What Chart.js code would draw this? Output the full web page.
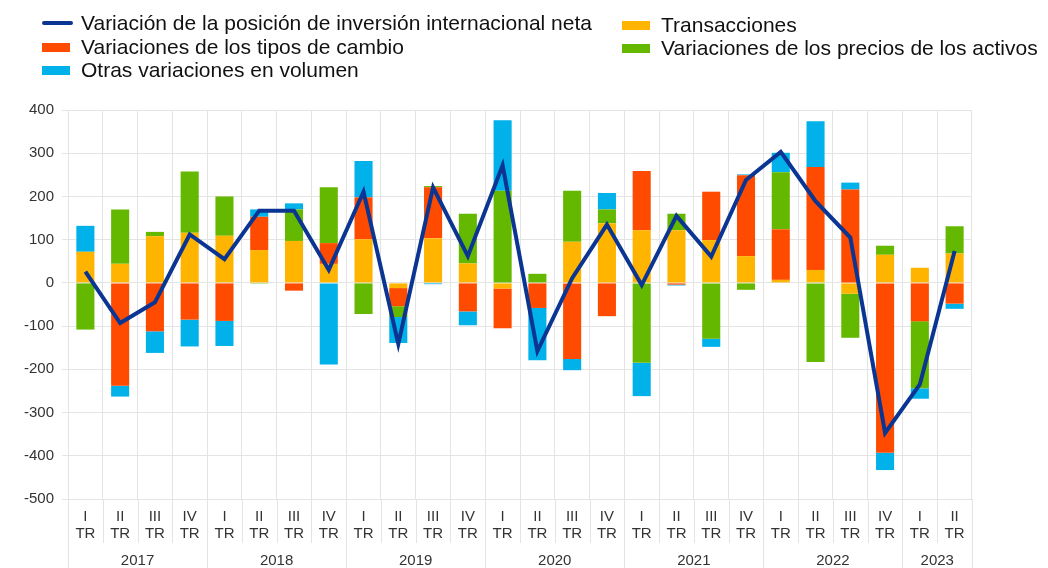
<!DOCTYPE html>
<html>
<head>
<meta charset="utf-8">
<script src="https://cdn.jsdelivr.net/npm/chart.js"></script>
<style>
    body { margin: 0; background: #fff; }
    .wrap { position: relative; width: 1048px; height: 568px; font-family: "Liberation Sans", Arial, sans-serif; }
    .legend-item { position: absolute; font-size: 21px; line-height: 24px; color: #111; white-space: nowrap; }
    .legend-mark { position: absolute; }
</style>
</head>
<body>
<div class="wrap">
    <canvas id="iip"></canvas>
    <div id="legend"></div>
</div>
<script>
    //categories
    const quarters = ['I', 'II', 'III', 'IV', 'I', 'II', 'III', 'IV', 'I', 'II', 'III', 'IV', 'I', 'II', 'III', 'IV',
        'I', 'II', 'III', 'IV', 'I', 'II', 'III', 'IV', 'I', 'II'];
    const years = ['2017', '2018', '2019', '2020', '2021', '2022', '2023'];

    //series (mm de euros)
    const transacciones = [72, 44, 108, 116, 109, 76, 97, 44, 101, -12, 103, 45, -13, 0, 95, 138, 122, 122, 99, 62, 7, 30, -25, 65, 35, 68];
    const tiposCambio = [0, -238, -112, -85, -88, 77, -18, 48, 97, -42, 118, -66, -92, -58, -176, -77, 137, -4, 112, 187, 117, 238, 216, -393, -89, -48];
    const preciosActivos = [-108, 126, 10, 142, 91, -2, 73, 129, -72, -25, 3, 115, 213, 21, 118, 32, -185, 38, -129, -16, 132, -183, -102, 21, -155, 63];
    const otrasVariaciones = [60, -25, -50, -62, -58, 17, 14, -189, 84, -60, -3, -32, 163, -121, -26, 38, -77, -2, -19, 2, 45, 106, 16, -40, -24, -12];
    const variacionNeta = [26, -93, -45, 112, 55, 167, 167, 30, 211, -141, 221, 62, 272, -158, 11, 135, -5, 155, 61, 238, 303, 189, 105, -347, -235, 74];

    //y axis ticks
    const yMin = -500;
    const yMax = 400;
    const yStep = 100;

    const gridColor = '#e4e4e4';
    const textColor = '#333';
    const colors = {
        neta: '#0a3592',
        transacciones: '#ffb400',
        tipos: '#ff4b00',
        precios: '#65b800',
        otras: '#00b1ea'
    };

    /*Legend*/
    const legendItems = [
        { label: 'Variación de la posición de inversión internacional neta', color: colors.neta, line: true, x: 42, y: 23 },
        { label: 'Variaciones de los tipos de cambio', color: colors.tipos, x: 42, y: 47 },
        { label: 'Otras variaciones en volumen', color: colors.otras, x: 42, y: 70 },
        { label: 'Transacciones', color: colors.transacciones, x: 622, y: 25 },
        { label: 'Variaciones de los precios de los activos', color: colors.precios, x: 622, y: 48 }
    ];
    document.getElementById('legend').innerHTML = legendItems.map(item => {
        let mark = item.line
            ? `<div class="legend-mark" style="left:${item.x}px;top:${item.y - 2}px;width:31px;height:4px;border-radius:2px;background:${item.color}"></div>`
            : `<div class="legend-mark" style="left:${item.x}px;top:${item.y - 4.5}px;width:28px;height:9px;background:${item.color}"></div>`;
        return `${mark}<div class="legend-item" style="left:${item.x + 39}px;top:${item.y - 12}px">${item.label}</div>`;
    }).join('');

    /*Quarter separators and year row*/
    const yearRow = {
        id: 'yearRow',
        afterDraw(chart) {
            const ctx = chart.ctx;
            const x = chart.scales.x;
            const bottom = chart.chartArea.bottom;
            ctx.save();
            ctx.strokeStyle = gridColor;
            ctx.lineWidth = 1;
            for (let i = 0; i <= quarters.length; i++) {
                let px = Math.round(x.getPixelForValue(i - 0.5)) + 0.5;
                let end = (i % 4 === 0 || i === quarters.length) ? 568 : 543;
                ctx.beginPath();
                ctx.moveTo(px, bottom);
                ctx.lineTo(px, end);
                ctx.stroke();
            }
            ctx.fillStyle = textColor;
            ctx.font = '15px "Liberation Sans", Arial, sans-serif';
            ctx.textAlign = 'center';
            ctx.textBaseline = 'middle';
            years.forEach((year, j) => {
                let first = j * 4;
                let last = Math.min(first + 3, quarters.length - 1);
                let cx = (x.getPixelForValue(first - 0.5) + x.getPixelForValue(last + 0.5)) / 2;
                ctx.fillText(year, cx, 561);
            });
            ctx.restore();
        }
    };

    const barDefaults = { type: 'bar', borderWidth: 0, barPercentage: 0.52, categoryPercentage: 1, order: 1, stack: 'bars' };

    const iip = document.getElementById('iip');
    new Chart(iip, {
        data: {
            labels: quarters.map(q => [q, 'TR']),
            datasets: [
                {
                    type: 'line',
                    label: 'Variación de la posición de inversión internacional neta',
                    data: variacionNeta,
                    borderColor: colors.neta,
                    borderWidth: 4,
                    pointRadius: 0,
                    tension: 0,
                    order: 0,
                    stack: 'neta'
                },
                { ...barDefaults, label: 'Transacciones', data: transacciones, backgroundColor: colors.transacciones },
                { ...barDefaults, label: 'Variaciones de los tipos de cambio', data: tiposCambio, backgroundColor: colors.tipos },
                { ...barDefaults, label: 'Variaciones de los precios de los activos', data: preciosActivos, backgroundColor: colors.precios },
                { ...barDefaults, label: 'Otras variaciones en volumen', data: otrasVariaciones, backgroundColor: colors.otras }
            ]
        },
        options: {
            responsive: true,
            maintainAspectRatio: false,
            animation: false,
            layout: { padding: { top: 110, right: 76, bottom: 0, left: 0 } },
            plugins: {
                legend: { display: false },
                tooltip: { enabled: false }
            },
            scales: {
                x: {
                    stacked: true,
                    offset: true,
                    grid: { color: gridColor, offset: true, drawTicks: false },
                    border: { color: gridColor },
                    ticks: {
                        color: textColor,
                        padding: 9,
                        maxRotation: 0,
                        autoSkip: false,
                        font: { family: '"Liberation Sans", Arial, sans-serif', size: 15, lineHeight: 1.13 }
                    },
                    afterFit: (scale) => { scale.height = 69; }
                },
                y: {
                    stacked: true,
                    min: yMin,
                    max: yMax,
                    grid: { color: gridColor, tickLength: 6 },
                    border: { color: gridColor },
                    ticks: {
                        stepSize: yStep,
                        color: textColor,
                        padding: 8,
                        font: { family: '"Liberation Sans", Arial, sans-serif', size: 15 }
                    },
                    afterFit: (scale) => { scale.width = 68; }
                }
            }
        },
        plugins: [yearRow]
    });
</script>
</body>
</html>
